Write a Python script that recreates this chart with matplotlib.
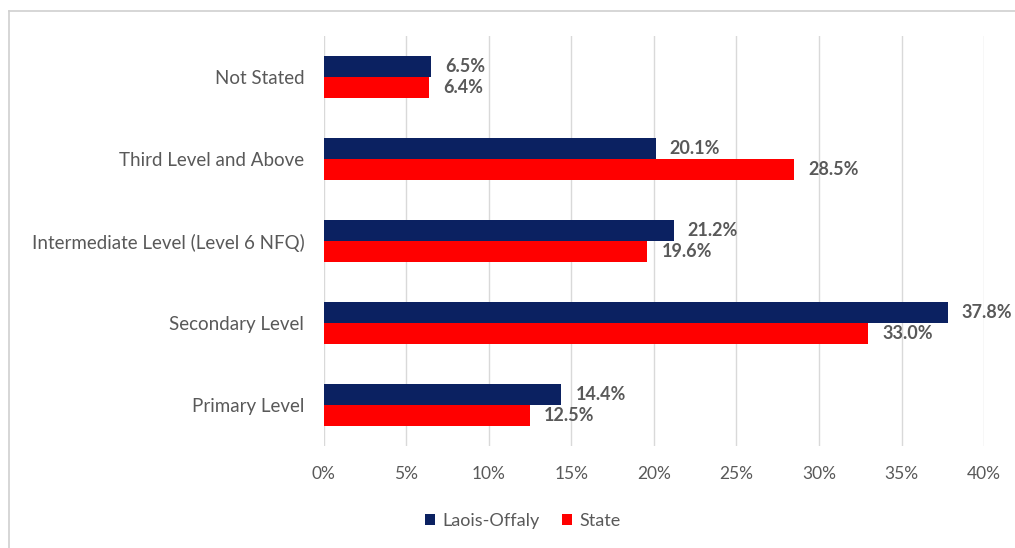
import matplotlib.pyplot as plt
import numpy as np
from matplotlib.lines import Line2D

# Data
categories = ['Not Stated', 'Third Level and Above', 'Intermediate Level (Level 6 NFQ)',
              'Secondary Level', 'Primary Level']
laois_offaly = [6.5, 20.1, 21.2, 37.8, 14.4]
state = [6.4, 28.5, 19.6, 33.0, 12.5]
x_ticks = [0, 5, 10, 15, 20, 25, 30, 35, 40]

plt.rcParams['font.family'] = ['Lato', 'DejaVu Sans']

navy = '#0b2161'
red = '#ff0000'
grey_text = '#595959'

fig = plt.figure(figsize=(10.15, 5.48), dpi=100)
ax = fig.add_axes([0.319, 0.186, 0.6505, 0.748])

y = np.arange(len(categories))
h = 0.26
bars1 = ax.barh(y - h / 2, laois_offaly, height=h, color=navy, label='Laois-Offaly', zorder=3)
bars2 = ax.barh(y + h / 2, state, height=h, color=red, label='State', zorder=3)

for bars, vals in [(bars1, laois_offaly), (bars2, state)]:
    for b, v in zip(bars, vals):
        ax.text(b.get_width() + 0.85, b.get_y() + b.get_height() / 2, f'{v:.1f}%',
                va='center', ha='left', fontsize=13, fontweight='bold', color=grey_text)

ax.set_yticks(y)
ax.set_yticklabels(categories, fontsize=13.5, color=grey_text)
ax.set_ylim(len(categories) - 0.5, -0.5)
ax.set_xlim(0, 40)
ax.set_xticks(x_ticks)
ax.set_xticklabels([f'{t}%' for t in x_ticks], fontsize=12.5, color=grey_text)
ax.tick_params(axis='y', length=0, pad=14)
ax.tick_params(axis='x', length=0, pad=14)
ax.grid(axis='x', color='#d9d9d9', linewidth=1, zorder=0)
for s in ax.spines.values():
    s.set_visible(False)

ax.legend(loc='center', bbox_to_anchor=(0.515, 0.05), bbox_transform=fig.transFigure,
          ncol=2, frameon=False, fontsize=13, handlelength=0.6, handleheight=0.6,
          columnspacing=1.2, handletextpad=0.4, labelcolor=grey_text)

# light border of the original chart frame
fig.add_artist(Line2D([9 / 1015, 9 / 1015], [0, 1 - 11 / 548], transform=fig.transFigure,
                      color='#d0d0d0', linewidth=1.2))
fig.add_artist(Line2D([9 / 1015, 1], [1 - 11 / 548, 1 - 11 / 548], transform=fig.transFigure,
                      color='#d0d0d0', linewidth=1.2))

fig.savefig('out.png', dpi=100)
